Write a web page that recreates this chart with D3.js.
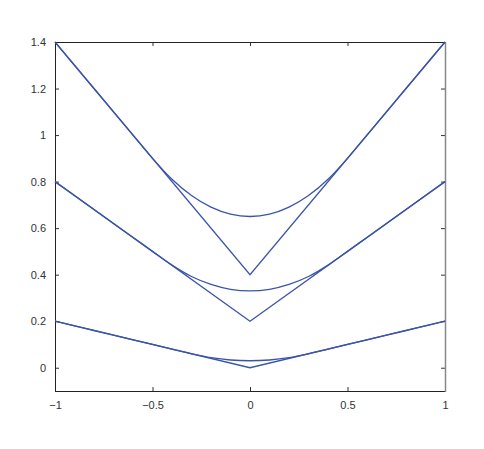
<!DOCTYPE html>
<html><head><meta charset="utf-8">
<script src="https://cdn.jsdelivr.net/npm/d3@7"></script>
<style>body{margin:0;background:#fff}svg{display:block}</style>
</head><body>
<script>
// Data
const xGrid = [-1,-0.9,-0.8,-0.7,-0.6,-0.5,-0.4,-0.3,-0.2,-0.1,0,0.1,0.2,0.3,0.4,0.5,0.6,0.7,0.8,0.9,1];
const vX = [-1, 0, 1];
const vLine1 = [1.4, 0.4, 1.4];
const vLine2 = [0.8, 0.2, 0.8];
const vLine3 = [0.2, 0.0, 0.2];
const smooth1 = [1.4,1.3,1.2,1.1,1.0,0.9,0.81,0.74,0.69,0.66,0.65,0.66,0.69,0.74,0.81,0.9,1.0,1.1,1.2,1.3,1.4];
const smooth2 = [0.8,0.74,0.68,0.62,0.56,0.5,0.441,0.392,0.358,0.337,0.33,0.337,0.358,0.392,0.441,0.5,0.56,0.62,0.68,0.74,0.8];
const smooth3 = [0.2,0.18,0.16,0.14,0.12,0.1,0.08,0.06,0.0433,0.0333,0.03,0.0333,0.0433,0.06,0.08,0.1,0.12,0.14,0.16,0.18,0.2];
const xTicks = [-1,-0.5,0,0.5,1];
const yTicks = [0,0.2,0.4,0.6,0.8,1,1.2,1.4];

const W = 484, H = 449;
const L = 55, R = 445, T = 42, B = 391;
const svg = d3.select("body").append("svg").attr("width", W).attr("height", H);
const x = d3.scaleLinear().domain([-1, 1]).range([L, R]);
const y = d3.scaleLinear().domain([-0.1, 1.4]).range([B, T]);
const fmt = d => (d < 0 ? "\u2212" : "") + String(Math.abs(d));
const font = "'Liberation Sans', Arial, sans-serif";

// axes with inward ticks
const ax = (g, axis) => { g.call(axis); g.select(".domain").remove();
  g.selectAll("line").attr("stroke", "#333"); g.selectAll("text").attr("fill", "#333").style("font-family", font).style("font-size", "11px"); };
svg.append("g").attr("transform", `translate(0,${B})`)
  .call(g => ax(g, d3.axisBottom(x).tickValues(xTicks).tickSizeInner(-4).tickSizeOuter(0).tickPadding(10).tickFormat(fmt)));
svg.append("g").attr("transform", `translate(0,${T})`)
  .call(g => { ax(g, d3.axisTop(x).tickValues(xTicks).tickSizeInner(-4).tickSizeOuter(0).tickFormat("")); });
svg.append("g").attr("transform", `translate(${L},0)`)
  .call(g => ax(g, d3.axisLeft(y).tickValues(yTicks).tickSizeInner(-4).tickSizeOuter(0).tickPadding(9).tickFormat(fmt)));
svg.append("g").attr("transform", `translate(${R},0)`)
  .call(g => { ax(g, d3.axisRight(y).tickValues(yTicks).tickSizeInner(-4).tickSizeOuter(0).tickFormat("")); });

// box
const box = svg.append("g").attr("stroke-width", 1).attr("fill", "none");
box.append("line").attr("x1", L + 0.5).attr("x2", L + 0.5).attr("y1", T).attr("y2", B + 1).attr("stroke", "#222");
box.append("line").attr("x1", L).attr("x2", R + 1).attr("y1", T + 0.5).attr("y2", T + 0.5).attr("stroke", "#222");
box.append("line").attr("x1", L).attr("x2", R + 1).attr("y1", B + 0.5).attr("y2", B + 0.5).attr("stroke", "#222");
box.append("line").attr("x1", R + 0.5).attr("x2", R + 0.5).attr("y1", T).attr("y2", B + 1).attr("stroke", "#888").attr("stroke-width", 1.5);

const color = "#3a54a8";
const line = d3.line().x(d => x(d[0])).y(d => y(d[1]));
const sLine = d3.line().x(d => x(d[0])).y(d => y(d[1])).curve(d3.curveMonotoneX);
[vLine1, vLine2, vLine3].forEach(v => {
  svg.append("path").attr("d", line(vX.map((xx, i) => [xx, v[i]])))
    .attr("fill", "none").attr("stroke", color).attr("stroke-width", 1.3);
});
[smooth1, smooth2, smooth3].forEach(s => {
  svg.append("path").attr("d", sLine(xGrid.map((xx, i) => [xx, s[i]])))
    .attr("fill", "none").attr("stroke", color).attr("stroke-width", 1.3);
});
</script>
</body></html>
